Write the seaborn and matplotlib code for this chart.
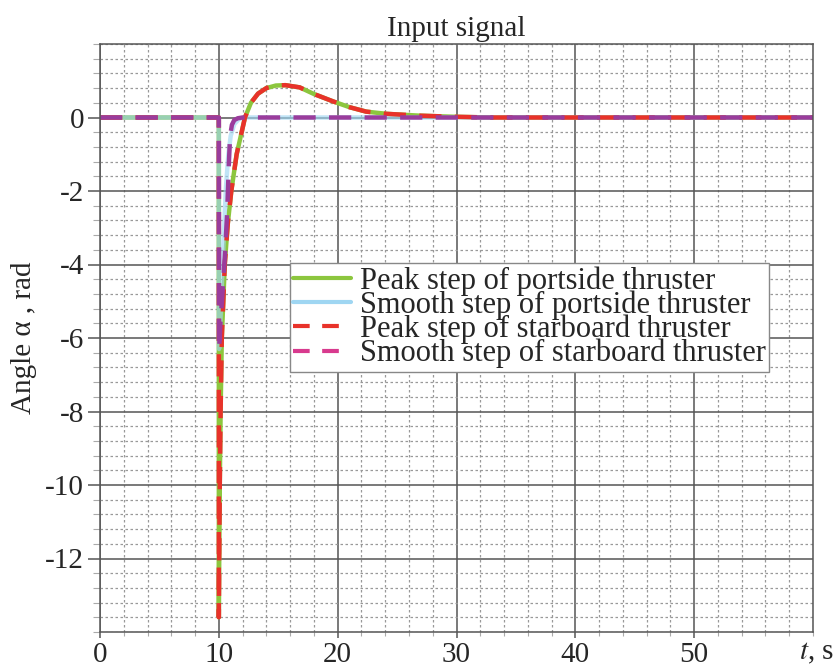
import numpy as np
import pandas as pd
import seaborn as sns
import matplotlib
matplotlib.use("Agg")
import matplotlib.pyplot as plt
from matplotlib.lines import Line2D
from matplotlib.ticker import MultipleLocator

# ---- data ----
peak_t = [0, 10, 10.0, 10.03, 10.08, 10.15, 10.25, 10.5, 10.75, 11.05, 11.5, 12.2, 12.7,
          13.3, 14.0, 14.8, 15.6, 16.8, 18.0, 19.6, 21.0, 22.4, 24.1, 26.9, 29.8, 33, 60]
peak_y = [0, 0, -13.6, -12, -10, -8, -6, -4, -2.9, -2, -1, 0, 0.4,
          0.65, 0.8, 0.87, 0.88, 0.82, 0.64, 0.44, 0.28, 0.16, 0.1, 0.05, 0.02, 0, 0]

smooth_port_t = [0, 10, 10.02, 10.1, 10.2, 10.3, 10.4, 10.5, 10.6, 10.8, 11.0, 11.3, 11.7, 12.2, 60]
smooth_port_y = [0, 0, -6.3, -5.8, -5.0, -4.2, -3.4, -2.6, -1.9, -1.0, -0.5, -0.18, -0.04, 0, 0]

smooth_star_t = [0, 10, 10.02, 10.15, 10.3, 10.5, 10.7, 10.85, 10.95, 11.1, 11.3, 11.6, 12.0, 60]
smooth_star_y = [0, 0, -6.3, -5.5, -4.8, -3.8, -2.6, -1.2, -0.5, -0.2, -0.07, -0.02, 0, 0]

labels = ["Peak step of portside thruster", "Smooth step of portside thruster",
          "Peak step of starboard thruster", "Smooth step of starboard thruster"]
x_ticks = [0, 10, 20, 30, 40, 50]
y_ticks = [0, -2, -4, -6, -8, -10, -12]

sns.set_style("white")
plt.rcParams['font.family'] = ['Liberation Serif', 'DejaVu Serif']
plt.rcParams['axes.unicode_minus'] = False
plt.rcParams['mathtext.fontset'] = 'stix'

fig = plt.figure(figsize=(8.35, 6.68), dpi=100)
ax = fig.add_axes([100/835, 1-632/668, 713/835, 588/668])

c_green = "#8cc63e"
c_lblue = "#9fd6f2"
c_red = "#e8322a"
c_mag_plot = "#9a3c9c"
c_mag_leg = "#d83a8e"

sns.lineplot(x=peak_t, y=peak_y, ax=ax, color=c_green, lw=3.2, sort=False, estimator=None)
sns.lineplot(x=smooth_port_t, y=smooth_port_y, ax=ax, color=c_lblue, lw=3.2, sort=False,
             estimator=None, alpha=0.65)
sns.lineplot(x=peak_t, y=peak_y, ax=ax, color=c_red, lw=3.2, sort=False, estimator=None,
             linestyle=(0, (5, 3)))
sns.lineplot(x=smooth_star_t, y=smooth_star_y, ax=ax, color=c_mag_plot, lw=3.2, sort=False,
             estimator=None, linestyle=(0, (5, 3)))

ax.set_xlim(0, 60)
ax.set_ylim(-14, 2)
ax.set_xticks(x_ticks)
ax.set_yticks(y_ticks)
ax.xaxis.set_minor_locator(MultipleLocator(2))
ax.yaxis.set_minor_locator(MultipleLocator(0.4))
ax.grid(which='major', color='#555555', lw=1.1, ls='-')
ax.grid(which='minor', color='#999999', lw=0.9, ls=(0, (2, 2)))
ax.set_axisbelow(True)
for s in ax.spines.values():
    s.set_color('#555555')
    s.set_linewidth(1.1)
ax.tick_params(which='major', direction='out', width=1.1, color='#555555',
               labelsize=21, left=True, bottom=True)
ax.tick_params(axis='y', which='major', length=8.6, pad=3)
ax.tick_params(axis='x', which='major', length=4.3, pad=3)
ax.tick_params(axis='y', which='minor', left=True, length=5, width=0.8, color='#aaaaaa')
ax.tick_params(axis='x', which='minor', bottom=True, length=3, width=0.8, color='#aaaaaa')

ax.set_title("Input signal", fontsize=21, pad=6)
ax.set_ylabel("Angle α , rad", fontsize=21, labelpad=6)
ax.text(1.005, -0.014, r"$t$, s", transform=ax.transAxes, ha='center', va='top', fontsize=21)

handles = [Line2D([], [], color=c_green, lw=3),
           Line2D([], [], color=c_lblue, lw=3),
           Line2D([], [], color=c_red, lw=3, ls=(0, (4, 3))),
           Line2D([], [], color=c_mag_leg, lw=3, ls=(0, (4, 3)))]
leg = ax.legend(handles, labels, loc='upper left', bbox_to_anchor=(190/713, (632-263)/588),
                fontsize=22, frameon=True, fancybox=False, framealpha=1, edgecolor='#888888',
                labelspacing=-0.17, handlelength=1.9, handletextpad=0.3, borderpad=0.1,
                borderaxespad=0)
leg.get_frame().set_linewidth(1.0)

fig.savefig("out.png", dpi=100)
